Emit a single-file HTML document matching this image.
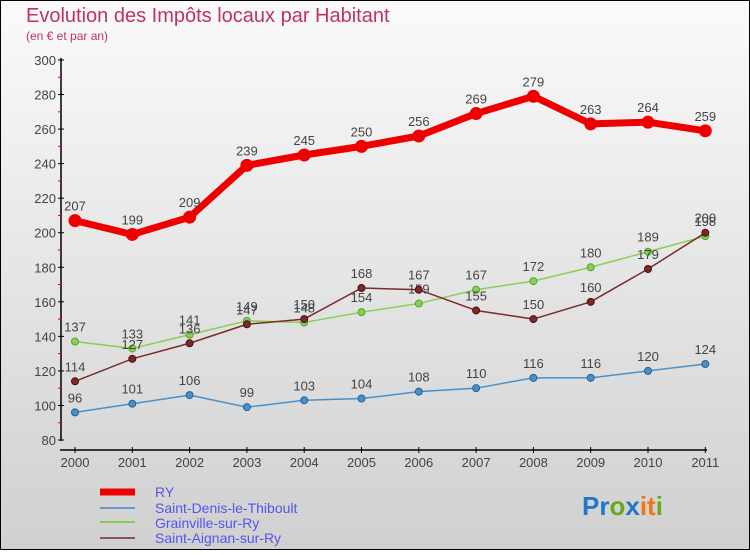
<!DOCTYPE html>
<html><head><meta charset="utf-8"><style>
html,body{margin:0;padding:0}
body{width:750px;height:550px;overflow:hidden;font-family:"Liberation Sans",sans-serif}
</style></head><body>
<svg id="chart" width="750" height="550" xmlns="http://www.w3.org/2000/svg">
<defs><linearGradient id="bg" x1="0" y1="0" x2="0" y2="1"><stop offset="0" stop-color="#fafafa"/><stop offset="1" stop-color="#d0d0d0"/></linearGradient></defs>
<rect x="0.5" y="0.5" width="749" height="549" fill="url(#bg)" stroke="#000"/>
<text x="26" y="22" font-size="20" fill="#c0335e">Evolution des Impôts locaux par Habitant</text>
<text x="26" y="40" font-size="12" fill="#c0335e">(en € et par an)</text>
<g id="axes"></g>
<g id="series"></g>
<g font-size="14" fill="#5555ee">
<line x1="100" y1="492" x2="135" y2="492" stroke="#ee0000" stroke-width="7"/>
<text x="155" y="497">RY</text>
<line x1="100" y1="508" x2="135" y2="508" stroke="#6699cc" stroke-width="2"/>
<text x="155" y="513">Saint-Denis-le-Thiboult</text>
<line x1="100" y1="522" x2="135" y2="522" stroke="#88cc55" stroke-width="2"/>
<text x="155" y="528">Grainville-sur-Ry</text>
<line x1="100" y1="538" x2="135" y2="538" stroke="#885555" stroke-width="2"/>
<text x="155" y="543">Saint-Aignan-sur-Ry</text>
</g>
<text x="582" y="515" font-size="26" font-weight="bold"><tspan fill="#2277cc">Pr</tspan><tspan fill="#66aa22">o</tspan><tspan fill="#2277cc">x</tspan><tspan fill="#ee7711">it</tspan><tspan fill="#66aa22">i</tspan></text>
</svg>
<script>
const years=[2000,2001,2002,2003,2004,2005,2006,2007,2008,2009,2010,2011];
const yTicks=[80,100,120,140,160,180,200,220,240,260,280,300];
const ry=[207,199,209,239,245,250,256,269,279,263,264,259];
const saintDenis=[96,101,106,99,103,104,108,110,116,116,120,124];
const grainville=[137,133,141,149,148,154,159,167,172,180,189,198];
const saintAignan=[114,127,136,147,150,168,167,155,150,160,179,200];
const NS="http://www.w3.org/2000/svg";
const xs=i=>75+i*57.3;
const ys=v=>440-(v-80)*380/220;
function mk(tag,attrs,parent){const e=document.createElementNS(NS,tag);for(const k in attrs)e.setAttribute(k,attrs[k]);parent.appendChild(e);return e;}
const ax=document.getElementById('axes');
let a=mk('line',{x1:61,y1:58,x2:61,y2:441,stroke:'#000','stroke-width':1.5},ax);


a=mk('line',{x1:60,y1:450,x2:707,y2:450,stroke:'#000','stroke-width':1.5},ax);


yTicks.forEach(v=>{
 mk('line',{x1:58,y1:ys(v),x2:64,y2:ys(v),stroke:'#000'},ax);
 if(v<300) mk('line',{x1:58,y1:ys(v+10),x2:61,y2:ys(v+10),stroke:'#e00'},ax);
 const t=mk('text',{x:56,y:ys(v)+5,'text-anchor':'end','font-size':13,fill:'#444'},ax);
 
 
 t.textContent=v;
});
years.forEach((y,i)=>{
 mk('line',{x1:xs(i),y1:447,x2:xs(i),y2:453,stroke:'#000'},ax);
 const t=mk('text',{x:xs(i),y:467,'text-anchor':'middle','font-size':13,fill:'#444'},ax);
 
 
 t.textContent=y;
});
const sg=document.getElementById('series');
function draw(data,name,color,w,dot,dotStroke){
 const g=mk('g',{},sg);
 
 
 const pl=mk('polyline',{points:data.map((v,i)=>xs(i)+','+ys(v)).join(' '),fill:'none',stroke:color,'stroke-width':w,'stroke-linejoin':'round'},g);
 
 
 data.forEach((v,i)=>{
  const c=mk('circle',{cx:xs(i),cy:ys(v),r:dot,fill:color,stroke:dotStroke,'stroke-width':1},g);
  
  
  const t=mk('text',{x:xs(i),y:ys(v)-10,'text-anchor':'middle','font-size':13,fill:'#444'},g);
  
  
  t.textContent=v;
 });
}
draw(saintDenis,'saint-denis-series','#4a90c8',1.5,3.5,'#2a6090');
draw(grainville,'grainville-series','#88d055',1.5,3.5,'#55a030');
draw(saintAignan,'saint-aignan-series','#7a2a2a',1.5,3.5,'#4a1010');
draw(ry,'ry-series','#ee0000',7,6,'#ee0000');
</script>
</body></html>
